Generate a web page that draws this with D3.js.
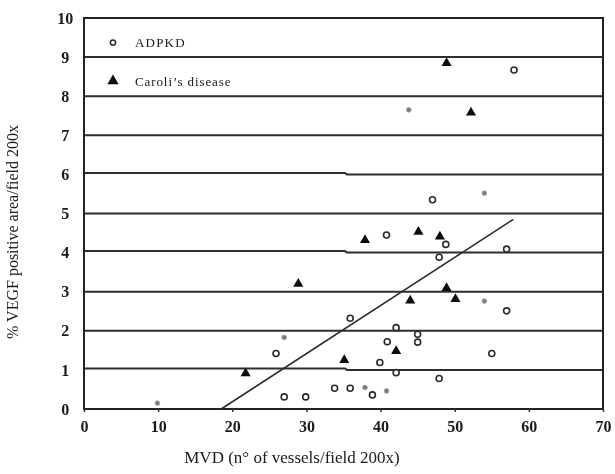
<!DOCTYPE html>
<html>
<head>
<meta charset="utf-8">
<script src="https://cdn.jsdelivr.net/npm/d3@7"></script>
<style>
  body { margin: 0; background: #fff; }
  svg text { font-family: "Liberation Serif", "Times New Roman", serif; fill: #1a1a1a; }
</style>
</head>
<body>
<svg id="chart"></svg>
<script>
// ADPKD points (open circles) [MVD, %VEGF]
const adpkd = [
    [25.9, 1.42], [27.0, 0.31], [29.9, 0.31], [33.8, 0.53], [35.9, 0.53],
    [35.9, 2.32], [38.9, 0.36], [39.9, 1.19], [40.9, 1.72], [40.8, 4.45],
    [42.1, 2.08], [42.1, 0.93], [45.0, 1.91], [45.0, 1.71], [47.0, 5.35],
    [47.9, 3.88], [47.9, 0.78], [48.8, 4.21], [55.0, 1.42], [57.0, 4.09],
    [57.0, 2.51], [58.0, 8.67]
];
// ADPKD points printed faint (small grey dots in the scan)
const adpkdFaint = [
    [9.9, 0.15], [27.0, 1.83], [37.9, 0.55], [40.8, 0.46], [43.8, 7.65],
    [54.0, 5.52], [54.0, 2.76]
];
// Caroli's disease points (filled triangles)
const caroli = [
    [21.8, 0.91], [28.9, 3.20], [35.1, 1.25], [37.9, 4.32], [42.1, 1.48],
    [44.0, 2.77], [45.1, 4.53], [48.0, 4.41], [48.9, 3.09], [50.1, 2.81],
    [48.9, 8.85], [52.2, 7.58]
];
// regression line end points
const trend = [[18.5, 0], [57.9, 4.85]];

const xTicks = [0, 10, 20, 30, 40, 50, 60, 70];
const yTicks = [0, 1, 2, 3, 4, 5, 6, 7, 8, 9, 10];
// the scanned grid lines have a small kink in them
const kinkedLines = [1, 4, 6];

const width = 615, height = 474;
const svg = d3.select("#chart").attr("width", width).attr("height", height);

// a touch of blur so it reads like the scanned figure
svg.append("defs").append("filter").attr("id", "soft")
    .append("feGaussianBlur").attr("stdDeviation", 0.35);
const g = svg.append("g").attr("filter", "url(#soft)");

const x = d3.scaleLinear().domain([0, 70]).range([84, 603]);
const y = d3.scaleLinear().domain([0, 10]).range([409, 18]);

// grid lines
const kinkAt = x(35.2);
g.append("g").selectAll("path")
    .data(yTicks.filter(d => d > 0 && d < 10))
    .enter().append("path")
    .attr("d", d => {
        const yy = y(d);
        const off = kinkedLines.includes(d) ? -1.5 : 0;
        return "M" + x(0) + "," + (yy + off) + "H" + kinkAt + "L" + (kinkAt + 2) + "," + yy + "H" + x(70);
    })
    .attr("fill", "none")
    .attr("stroke", "#2e2e2e")
    .attr("stroke-width", 2);

// plot frame
g.append("rect")
    .attr("x", x(0)).attr("y", y(10))
    .attr("width", x(70) - x(0)).attr("height", y(0) - y(10))
    .attr("fill", "none")
    .attr("stroke", "#222")
    .attr("stroke-width", 2);

// x axis
const xAxis = g.append("g")
    .attr("transform", "translate(0," + y(0) + ")")
    .call(d3.axisBottom(x).tickValues(xTicks).tickSize(3).tickPadding(9));
xAxis.select(".domain").remove();
xAxis.selectAll("line").attr("stroke", "#333").attr("stroke-width", 1.5);
xAxis.selectAll("text")
    .style("font-family", "Liberation Serif, serif")
    .style("font-size", "16px").style("font-weight", "bold").attr("fill", "#1a1a1a");

// y axis
const yAxis = g.append("g")
    .attr("transform", "translate(" + x(0) + ",0)")
    .call(d3.axisLeft(y).tickValues(yTicks).tickSize(0).tickPadding(14));
yAxis.select(".domain").remove();
yAxis.selectAll("text")
    .style("font-family", "Liberation Serif, serif")
    .style("font-size", "16px").style("font-weight", "bold").attr("fill", "#1a1a1a")
    .attr("text-anchor", "middle").attr("dx", "-0.3em");

// regression line
g.append("line")
    .attr("x1", x(trend[0][0])).attr("y1", y(trend[0][1]))
    .attr("x2", x(trend[1][0])).attr("y2", y(trend[1][1]))
    .attr("stroke", "#2a2a2a")
    .attr("stroke-width", 1.5);

// faint ADPKD dots
g.append("g").selectAll("circle")
    .data(adpkdFaint)
    .enter().append("circle")
    .attr("cx", d => x(d[0]))
    .attr("cy", d => y(d[1]))
    .attr("r", 2.4)
    .attr("fill", "#7a7a7a")
    .attr("stroke", "#aaa")
    .attr("stroke-width", 0.8);

// ADPKD open circles
g.append("g").selectAll("circle")
    .data(adpkd)
    .enter().append("circle")
    .attr("cx", d => x(d[0]))
    .attr("cy", d => y(d[1]))
    .attr("r", 3)
    .attr("fill", "#fff")
    .attr("stroke", "#2a2a2a")
    .attr("stroke-width", 1.6);

// Caroli triangles
const tri = d3.symbol().type(d3.symbolTriangle).size(44);
g.append("g").selectAll("path")
    .data(caroli)
    .enter().append("path")
    .attr("d", tri)
    .attr("transform", d => "translate(" + x(d[0]) + "," + y(d[1]) + ")")
    .attr("fill", "#0d0d0d");

// legend
const legend = g.append("g");
legend.append("circle")
    .attr("cx", 113).attr("cy", 42.5).attr("r", 2.6)
    .attr("fill", "#fff").attr("stroke", "#2a2a2a").attr("stroke-width", 1.5);
legend.append("text")
    .attr("x", 135).attr("y", 47)
    .style("font-size", "13px").style("letter-spacing", "1.2px")
    .text("ADPKD");
legend.append("path")
    .attr("d", d3.symbol().type(d3.symbolTriangle).size(55))
    .attr("transform", "translate(113,81)")
    .attr("fill", "#0d0d0d");
legend.append("text")
    .attr("x", 135).attr("y", 86)
    .style("font-size", "13px").style("letter-spacing", "0.9px")
    .text("Caroli\u2019s disease");

// axis titles
g.append("text")
    .attr("x", 292).attr("y", 463)
    .attr("text-anchor", "middle")
    .style("font-size", "17px")
    .text("MVD (n\u00b0 of vessels/field 200x)");

g.append("text")
    .attr("transform", "translate(18,232) rotate(-90)")
    .attr("text-anchor", "middle")
    .style("font-size", "16px")
    .text("% VEGF positive area/field 200x");
</script>
</body>
</html>
